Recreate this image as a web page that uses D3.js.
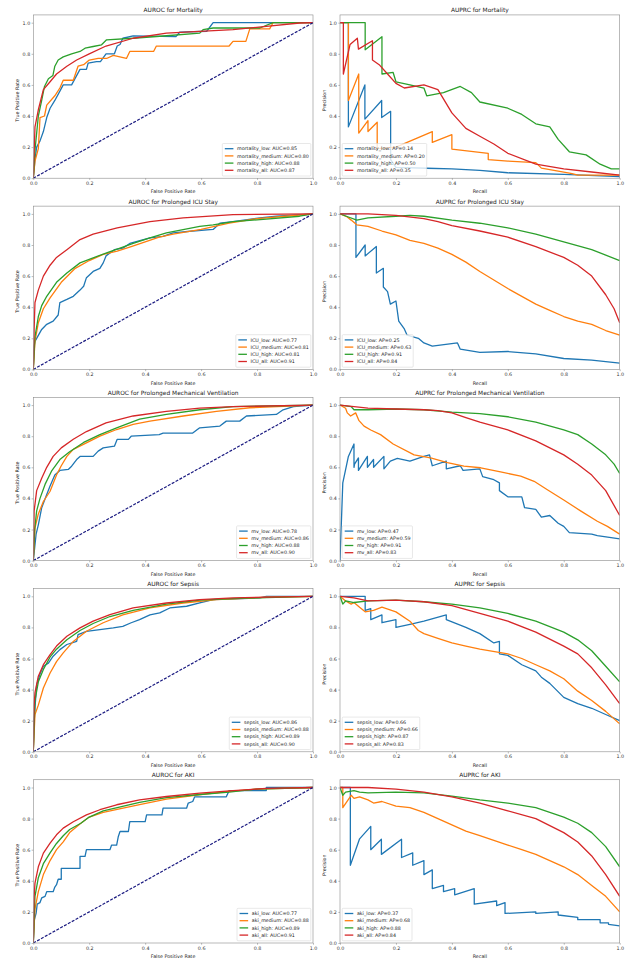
<!DOCTYPE html>
<html>
<head>
<meta charset="utf-8">
<script src="https://cdn.jsdelivr.net/npm/d3@7"></script>
<style>
  body { margin: 0; background: #fff; }
  svg { display: block; font-family: "DejaVu Sans", sans-serif; }
</style>
</head>
<body>
<div id="chart"></div>
<script>
var width = 628;
var height = 959;

// ---- labels ----
var tasks = ["Mortality", "Prolonged ICU Stay", "Prolonged Mechanical Ventilation", "Sepsis", "AKI"];
var prefixes = ["mortality", "ICU", "mv", "sepsis", "aki"];
var groups = ["low", "medium", "high", "all"];
var xTicks = [0, 0.2, 0.4, 0.6, 0.8, 1.0];
var yTicks = [0, 0.2, 0.4, 0.6, 0.8, 1.0];

var rocAuc = [
  [0.85, 0.80, 0.88, 0.87],
  [0.77, 0.81, 0.81, 0.91],
  [0.78, 0.86, 0.88, 0.90],
  [0.86, 0.88, 0.89, 0.90],
  [0.77, 0.88, 0.89, 0.91]
];
var prAp = [
  [0.14, 0.20, 0.50, 0.35],
  [0.25, 0.63, 0.91, 0.84],
  [0.47, 0.59, 0.91, 0.83],
  [0.66, 0.66, 0.87, 0.83],
  [0.37, 0.68, 0.88, 0.84]
];

// ---- ROC curves [fpr, tpr] ----
var rocMortalityLow = [[0,0],[0.006,0.12],[0.012,0.2],[0.024,0.24],[0.036,0.3],[0.048,0.39],[0.06,0.45],[0.077,0.5],[0.095,0.56],[0.107,0.6],[0.137,0.6],[0.149,0.64],[0.167,0.7],[0.19,0.7],[0.196,0.74],[0.226,0.75],[0.24,0.75],[0.26,0.8],[0.29,0.8],[0.3,0.85],[0.31,0.86],[0.32,0.9],[0.357,0.915],[0.51,0.91],[0.524,0.94],[0.62,0.945],[0.643,1.0],[1,1]];
var rocMortalityMedium = [[0,0],[0.006,0.11],[0.018,0.19],[0.024,0.39],[0.04,0.4],[0.048,0.47],[0.077,0.53],[0.095,0.58],[0.107,0.63],[0.143,0.63],[0.16,0.72],[0.18,0.73],[0.2,0.76],[0.232,0.77],[0.262,0.77],[0.286,0.79],[0.333,0.77],[0.345,0.815],[0.43,0.815],[0.44,0.85],[0.7,0.85],[0.714,0.88],[0.76,0.88],[0.774,0.96],[0.845,0.96],[0.857,1.0],[1,1]];
var rocMortalityHigh = [[0,0],[0.006,0.18],[0.018,0.4],[0.03,0.5],[0.04,0.59],[0.054,0.64],[0.07,0.66],[0.077,0.72],[0.089,0.76],[0.107,0.78],[0.137,0.8],[0.167,0.815],[0.185,0.836],[0.214,0.847],[0.244,0.858],[0.262,0.89],[0.357,0.9],[0.476,0.916],[0.595,0.933],[0.607,0.955],[0.643,0.966],[0.81,0.966],[0.857,1.0],[1,1]];
var rocMortalityAll = [[0,0],[0.006,0.33],[0.018,0.44],[0.036,0.57],[0.06,0.62],[0.083,0.67],[0.12,0.72],[0.155,0.76],[0.2,0.8],[0.26,0.85],[0.357,0.9],[0.476,0.933],[0.595,0.944],[0.714,0.955],[0.833,0.976],[0.952,0.998],[1,1]];

var rocIcuLow = [[0,0],[0.003,0.15],[0.006,0.18],[0.03,0.257],[0.048,0.29],[0.071,0.31],[0.089,0.35],[0.095,0.43],[0.12,0.45],[0.143,0.47],[0.167,0.51],[0.18,0.535],[0.19,0.59],[0.214,0.63],[0.238,0.65],[0.25,0.685],[0.26,0.73],[0.29,0.77],[0.32,0.78],[0.345,0.81],[0.417,0.846],[0.464,0.856],[0.5,0.878],[0.57,0.89],[0.643,0.9],[0.667,0.94],[0.714,0.95],[0.81,0.974],[0.87,0.985],[1,1]];
var rocIcuMedium = [[0,0],[0.006,0.18],[0.018,0.3],[0.036,0.39],[0.06,0.46],[0.1,0.56],[0.15,0.65],[0.2,0.7],[0.25,0.74],[0.3,0.76],[0.35,0.79],[0.4,0.82],[0.45,0.85],[0.5,0.87],[0.6,0.9],[0.7,0.94],[0.8,0.97],[0.9,0.985],[1,1]];
var rocIcuHigh = [[0,0],[0.006,0.21],[0.018,0.34],[0.03,0.41],[0.048,0.47],[0.083,0.56],[0.12,0.62],[0.167,0.685],[0.214,0.717],[0.262,0.75],[0.31,0.78],[0.357,0.81],[0.417,0.846],[0.476,0.878],[0.595,0.92],[0.643,0.93],[0.714,0.95],[0.833,0.966],[0.952,0.985],[1,1]];
var rocIcuAll = [[0,0],[0.003,0.26],[0.006,0.43],[0.018,0.51],[0.036,0.6],[0.06,0.67],[0.083,0.72],[0.12,0.77],[0.167,0.835],[0.214,0.87],[0.3,0.91],[0.417,0.95],[0.536,0.975],[0.714,0.995],[1,1]];

var rocMvLow = [[0,0],[0.01,0.17],[0.018,0.23],[0.03,0.34],[0.048,0.425],[0.06,0.48],[0.077,0.55],[0.095,0.58],[0.125,0.586],[0.137,0.607],[0.155,0.65],[0.167,0.67],[0.214,0.67],[0.232,0.704],[0.25,0.725],[0.29,0.736],[0.3,0.78],[0.34,0.78],[0.35,0.8],[0.45,0.81],[0.464,0.82],[0.57,0.82],[0.595,0.854],[0.667,0.865],[0.69,0.897],[0.738,0.897],[0.762,0.93],[0.869,0.94],[0.893,0.97],[0.93,0.99],[1,1]];
var rocMvMedium = [[0,0],[0.006,0.21],[0.018,0.3],[0.036,0.38],[0.06,0.446],[0.083,0.55],[0.1,0.61],[0.12,0.67],[0.143,0.715],[0.19,0.757],[0.238,0.8],[0.298,0.843],[0.357,0.876],[0.417,0.897],[0.536,0.93],[0.655,0.96],[0.774,0.983],[1,1]];
var rocMvHigh = [[0,0],[0.005,0.2],[0.012,0.32],[0.024,0.4],[0.042,0.49],[0.065,0.575],[0.095,0.65],[0.13,0.7],[0.18,0.76],[0.238,0.81],[0.298,0.854],[0.38,0.91],[0.476,0.94],[0.595,0.97],[0.714,0.99],[1,1]];
var rocMvAll = [[0,0],[0.003,0.32],[0.012,0.45],[0.03,0.53],[0.048,0.6],[0.071,0.67],[0.1,0.725],[0.143,0.78],[0.19,0.83],[0.26,0.886],[0.357,0.93],[0.476,0.96],[0.595,0.98],[0.714,0.99],[1,1]];

var rocSepsisLow = [[0,0],[0.003,0.2],[0.006,0.28],[0.012,0.43],[0.024,0.5],[0.036,0.55],[0.054,0.57],[0.071,0.615],[0.095,0.657],[0.12,0.69],[0.155,0.71],[0.16,0.754],[0.19,0.775],[0.238,0.786],[0.286,0.797],[0.32,0.807],[0.35,0.83],[0.38,0.85],[0.417,0.88],[0.452,0.893],[0.488,0.925],[0.548,0.936],[0.595,0.957],[0.643,0.978],[0.81,0.99],[0.833,1.0],[1,1]];
var rocSepsisMedium = [[0,0],[0.006,0.24],[0.018,0.3],[0.036,0.41],[0.06,0.507],[0.083,0.58],[0.107,0.636],[0.143,0.71],[0.19,0.775],[0.25,0.83],[0.32,0.88],[0.417,0.925],[0.536,0.957],[0.655,0.978],[0.833,0.994],[1,1]];
var rocSepsisHigh = [[0,0],[0.006,0.33],[0.018,0.45],[0.036,0.53],[0.06,0.61],[0.083,0.66],[0.12,0.72],[0.167,0.78],[0.214,0.825],[0.274,0.87],[0.357,0.91],[0.476,0.95],[0.595,0.975],[0.714,0.985],[0.8,0.99],[1,1]];
var rocSepsisAll = [[0,0],[0.003,0.3],[0.006,0.38],[0.018,0.486],[0.036,0.56],[0.06,0.625],[0.083,0.68],[0.12,0.743],[0.167,0.797],[0.214,0.84],[0.274,0.882],[0.357,0.925],[0.476,0.957],[0.595,0.979],[0.714,0.99],[1,1]];

var rocAkiLow = [[0,0],[0.004,0.15],[0.01,0.19],[0.014,0.25],[0.024,0.26],[0.03,0.29],[0.042,0.3],[0.048,0.33],[0.071,0.33],[0.077,0.36],[0.083,0.375],[0.089,0.41],[0.1,0.41],[0.1,0.48],[0.167,0.48],[0.167,0.557],[0.185,0.557],[0.19,0.6],[0.274,0.6],[0.28,0.63],[0.298,0.63],[0.304,0.685],[0.31,0.717],[0.34,0.717],[0.345,0.78],[0.4,0.78],[0.405,0.824],[0.46,0.824],[0.464,0.867],[0.548,0.867],[0.554,0.9],[0.57,0.91],[0.577,0.94],[0.69,0.94],[0.7,0.98],[0.833,0.98],[0.833,1.0],[1,1]];
var rocAkiMedium = [[0,0],[0.006,0.22],[0.018,0.33],[0.036,0.44],[0.06,0.53],[0.083,0.6],[0.107,0.65],[0.13,0.71],[0.17,0.77],[0.2,0.81],[0.25,0.84],[0.3,0.86],[0.38,0.89],[0.476,0.925],[0.6,0.955],[0.7,0.975],[0.8,0.99],[1,1]];
var rocAkiHigh = [[0,0],[0.006,0.3],[0.018,0.42],[0.036,0.51],[0.06,0.58],[0.083,0.64],[0.107,0.69],[0.13,0.73],[0.17,0.77],[0.2,0.81],[0.25,0.85],[0.3,0.87],[0.38,0.905],[0.476,0.935],[0.595,0.955],[0.7,0.97],[0.8,0.99],[1,1]];
var rocAkiAll = [[0,0],[0.003,0.3],[0.006,0.385],[0.018,0.49],[0.036,0.578],[0.06,0.642],[0.083,0.696],[0.107,0.739],[0.143,0.78],[0.19,0.824],[0.238,0.857],[0.298,0.889],[0.38,0.92],[0.476,0.942],[0.595,0.964],[0.714,0.98],[0.833,0.994],[1,1]];

// ---- PR curves [recall, precision] ----
var prMortalityLow = [[0,1],[0.03,1],[0.03,0.33],[0.089,0.6],[0.089,0.38],[0.149,0.5],[0.149,0.39],[0.181,0.43],[0.181,0.12],[0.2,0.07],[0.31,0.064],[0.4,0.06],[0.5,0.05],[0.6,0.035],[0.8,0.025],[1,0.01]];
var prMortalityMedium = [[0,1],[0.03,1],[0.03,0.5],[0.067,0.67],[0.067,0.29],[0.1,0.37],[0.1,0.3],[0.133,0.36],[0.133,0.19],[0.2,0.2],[0.33,0.3],[0.33,0.23],[0.4,0.28],[0.4,0.187],[0.53,0.16],[0.53,0.12],[0.6,0.11],[0.7,0.1],[0.72,0.065],[0.83,0.03],[0.85,0.02],[1,0.02]];
var prMortalityHigh = [[0,1],[0.09,1],[0.09,0.826],[0.15,0.91],[0.15,0.67],[0.19,0.68],[0.2,0.62],[0.25,0.6],[0.3,0.58],[0.31,0.53],[0.37,0.55],[0.43,0.59],[0.47,0.55],[0.5,0.49],[0.6,0.45],[0.65,0.41],[0.7,0.35],[0.75,0.33],[0.78,0.25],[0.82,0.17],[0.88,0.15],[0.93,0.09],[0.97,0.06],[1,0.06]];
var prMortalityAll = [[0,1],[0.012,1],[0.012,0.67],[0.036,0.86],[0.062,0.9],[0.066,0.83],[0.116,0.884],[0.116,0.76],[0.14,0.73],[0.17,0.67],[0.2,0.61],[0.23,0.58],[0.3,0.6],[0.35,0.57],[0.4,0.42],[0.45,0.32],[0.5,0.27],[0.55,0.22],[0.6,0.16],[0.7,0.09],[0.8,0.06],[0.9,0.04],[1,0.02]];

var prIcuLow = [[0,1],[0.057,1],[0.057,0.72],[0.09,0.8],[0.09,0.73],[0.13,0.79],[0.13,0.62],[0.155,0.65],[0.155,0.53],[0.17,0.5],[0.18,0.42],[0.2,0.44],[0.21,0.31],[0.23,0.26],[0.24,0.22],[0.28,0.2],[0.3,0.17],[0.33,0.15],[0.42,0.17],[0.43,0.13],[0.5,0.11],[0.6,0.115],[0.7,0.1],[0.8,0.07],[0.9,0.06],[1,0.04]];
var prIcuMedium = [[0,1],[0.026,0.98],[0.04,0.96],[0.06,0.93],[0.1,0.92],[0.15,0.89],[0.2,0.865],[0.25,0.83],[0.3,0.81],[0.35,0.78],[0.4,0.74],[0.45,0.69],[0.5,0.63],[0.55,0.575],[0.6,0.52],[0.65,0.47],[0.7,0.42],[0.75,0.38],[0.8,0.34],[0.85,0.31],[0.9,0.29],[0.95,0.25],[1,0.22]];
var prIcuHigh = [[0,1],[0.03,0.98],[0.06,0.96],[0.1,0.975],[0.2,0.985],[0.25,0.99],[0.3,0.985],[0.4,0.96],[0.5,0.94],[0.6,0.91],[0.7,0.87],[0.8,0.82],[0.9,0.77],[1,0.7]];
var prIcuAll = [[0,1],[0.1,1],[0.2,0.99],[0.3,0.97],[0.35,0.95],[0.4,0.925],[0.5,0.89],[0.6,0.85],[0.7,0.79],[0.8,0.72],[0.85,0.67],[0.9,0.6],[0.95,0.48],[0.98,0.39],[1,0.3]];

var prMvLow = [[0,0],[0.01,0.5],[0.03,0.67],[0.05,0.75],[0.05,0.6],[0.052,0.62],[0.066,0.66],[0.066,0.58],[0.098,0.67],[0.098,0.6],[0.12,0.65],[0.12,0.6],[0.157,0.67],[0.157,0.59],[0.18,0.64],[0.205,0.657],[0.25,0.64],[0.3,0.67],[0.32,0.68],[0.33,0.61],[0.38,0.64],[0.38,0.59],[0.43,0.61],[0.44,0.58],[0.5,0.59],[0.51,0.54],[0.55,0.52],[0.57,0.5],[0.57,0.45],[0.6,0.41],[0.65,0.41],[0.66,0.34],[0.7,0.33],[0.72,0.28],[0.75,0.29],[0.78,0.24],[0.8,0.22],[0.82,0.18],[0.9,0.17],[0.92,0.16],[1,0.14]];
var prMvMedium = [[0,1],[0.02,0.98],[0.026,0.95],[0.038,0.93],[0.056,0.95],[0.068,0.9],[0.086,0.865],[0.11,0.84],[0.145,0.81],[0.19,0.75],[0.265,0.68],[0.324,0.66],[0.384,0.63],[0.443,0.607],[0.503,0.597],[0.574,0.57],[0.646,0.543],[0.694,0.51],[0.74,0.457],[0.8,0.39],[0.86,0.32],[0.92,0.253],[0.956,0.22],[1,0.17]];
var prMvHigh = [[0,1],[0.04,0.99],[0.05,0.97],[0.1,0.97],[0.2,0.975],[0.3,0.97],[0.4,0.955],[0.5,0.945],[0.6,0.925],[0.7,0.89],[0.8,0.84],[0.85,0.81],[0.9,0.75],[0.95,0.68],[0.98,0.62],[1,0.56]];
var prMvAll = [[0,1],[0.1,0.98],[0.2,0.975],[0.3,0.97],[0.35,0.965],[0.4,0.95],[0.45,0.92],[0.5,0.89],[0.6,0.84],[0.7,0.77],[0.8,0.68],[0.85,0.62],[0.9,0.55],[0.95,0.45],[1,0.29]];

var prSepsisLow = [[0,1],[0.09,1],[0.09,0.91],[0.11,0.92],[0.11,0.85],[0.15,0.88],[0.15,0.83],[0.2,0.85],[0.2,0.8],[0.25,0.82],[0.3,0.84],[0.38,0.88],[0.38,0.85],[0.45,0.8],[0.5,0.76],[0.55,0.7],[0.57,0.71],[0.57,0.63],[0.6,0.62],[0.65,0.56],[0.7,0.52],[0.72,0.48],[0.75,0.44],[0.8,0.35],[0.85,0.31],[0.9,0.28],[0.95,0.24],[1,0.2]];
var prSepsisMedium = [[0,1],[0.02,0.97],[0.04,0.95],[0.05,0.96],[0.07,0.93],[0.09,0.9],[0.12,0.91],[0.15,0.93],[0.2,0.9],[0.25,0.84],[0.28,0.78],[0.3,0.76],[0.35,0.73],[0.4,0.7],[0.45,0.68],[0.5,0.66],[0.6,0.63],[0.65,0.6],[0.7,0.56],[0.75,0.52],[0.8,0.47],[0.85,0.39],[0.9,0.33],[0.95,0.26],[1,0.18]];
var prSepsisHigh = [[0,1],[0.01,0.95],[0.02,0.97],[0.05,0.96],[0.1,0.97],[0.2,0.975],[0.3,0.965],[0.4,0.95],[0.5,0.925],[0.6,0.89],[0.7,0.84],[0.8,0.77],[0.85,0.72],[0.9,0.65],[0.95,0.55],[1,0.45]];
var prSepsisAll = [[0,1],[0.05,0.99],[0.1,0.97],[0.2,0.975],[0.3,0.965],[0.4,0.94],[0.5,0.89],[0.6,0.84],[0.7,0.77],[0.8,0.68],[0.85,0.63],[0.9,0.54],[0.95,0.43],[1,0.31]];

var prAkiLow = [[0,1],[0.037,1],[0.037,0.5],[0.07,0.67],[0.11,0.75],[0.11,0.6],[0.148,0.667],[0.148,0.57],[0.22,0.667],[0.22,0.55],[0.26,0.58],[0.26,0.5],[0.3,0.53],[0.3,0.44],[0.33,0.47],[0.33,0.35],[0.37,0.37],[0.37,0.33],[0.41,0.35],[0.41,0.31],[0.48,0.35],[0.48,0.25],[0.56,0.27],[0.56,0.24],[0.59,0.26],[0.59,0.19],[0.7,0.2],[0.7,0.19],[0.78,0.2],[0.78,0.18],[0.85,0.165],[0.85,0.15],[0.93,0.15],[0.93,0.13],[0.96,0.13],[0.96,0.12],[1,0.11]];
var prAkiMedium = [[0,1],[0.01,1],[0.01,0.87],[0.04,0.95],[0.05,0.93],[0.07,0.94],[0.1,0.92],[0.12,0.9],[0.15,0.91],[0.2,0.88],[0.25,0.87],[0.3,0.84],[0.35,0.8],[0.4,0.76],[0.45,0.72],[0.5,0.69],[0.55,0.66],[0.6,0.63],[0.65,0.6],[0.7,0.57],[0.75,0.53],[0.8,0.49],[0.85,0.44],[0.9,0.37],[0.95,0.3],[1,0.2]];
var prAkiHigh = [[0,1],[0.01,0.95],[0.02,0.97],[0.05,0.98],[0.07,0.97],[0.1,0.965],[0.2,0.97],[0.3,0.965],[0.4,0.945],[0.5,0.92],[0.6,0.9],[0.7,0.87],[0.8,0.81],[0.85,0.77],[0.9,0.71],[0.95,0.62],[1,0.49]];
var prAkiAll = [[0,1],[0.1,1],[0.2,0.99],[0.3,0.97],[0.4,0.94],[0.5,0.9],[0.6,0.85],[0.7,0.8],[0.8,0.71],[0.85,0.65],[0.9,0.56],[0.95,0.44],[1,0.3]];

var rocCurves = [
  [rocMortalityLow, rocMortalityMedium, rocMortalityHigh, rocMortalityAll],
  [rocIcuLow, rocIcuMedium, rocIcuHigh, rocIcuAll],
  [rocMvLow, rocMvMedium, rocMvHigh, rocMvAll],
  [rocSepsisLow, rocSepsisMedium, rocSepsisHigh, rocSepsisAll],
  [rocAkiLow, rocAkiMedium, rocAkiHigh, rocAkiAll]
];
var prCurves = [
  [prMortalityLow, prMortalityMedium, prMortalityHigh, prMortalityAll],
  [prIcuLow, prIcuMedium, prIcuHigh, prIcuAll],
  [prMvLow, prMvMedium, prMvHigh, prMvAll],
  [prSepsisLow, prSepsisMedium, prSepsisHigh, prSepsisAll],
  [prAkiLow, prAkiMedium, prAkiHigh, prAkiAll]
];

var colors = ["#1f77b4", "#ff7f0e", "#2ca02c", "#d62728"];

// layout
var colLeft = [33.3, 340];
var plotW = 279.7;
var firstBottom = 178.2;   // y of value 0 in first row
var rowStep = 191.2;
var unit = 155.5;          // pixels per 1.0 on y
var fs = 4.8;

var svg = d3.select("#chart").append("svg")
    .attr("width", width)
    .attr("height", height);

svg.append("rect")
    .attr("width", width)
    .attr("height", height)
    .attr("fill", "#ffffff");

var defs = svg.append("defs");

var drawPanel = function(row, col) {
    var isRoc = col == 0;
    var x0 = colLeft[col];
    var yb = firstBottom + rowStep * row;
    var ytop = yb - unit * 1.05;

    var x = d3.scaleLinear().domain([0, 1]).range([x0, x0 + plotW]);
    var y = d3.scaleLinear().domain([0, 1.05]).range([yb, ytop]);

    var g = svg.append("g").attr("class", "panel");
    var clipId = "clip" + row + "_" + col;

    defs.append("clipPath").attr("id", clipId)
        .append("rect")
        .attr("x", x0)
        .attr("y", ytop)
        .attr("width", plotW)
        .attr("height", yb - ytop);

    var line = d3.line()
        .x(function(d) { return x(d[0]); })
        .y(function(d) { return y(d[1]); });

    var curves = isRoc ? rocCurves[row] : prCurves[row];
    var values = isRoc ? rocAuc[row] : prAp[row];

    var lines = g.append("g").attr("clip-path", "url(#" + clipId + ")");

    curves.forEach(function(c, i) {
        lines.append("path")
            .datum(c)
            .attr("d", line)
            .attr("fill", "none")
            .attr("stroke", colors[i])
            .attr("stroke-width", 1.3)
            .attr("stroke-linejoin", "round");
    });

    if (isRoc) {
        lines.append("path")
            .datum([[0, 0], [1, 1]])
            .attr("d", line)
            .attr("fill", "none")
            .attr("stroke", "#1a1a80")
            .attr("stroke-width", 1.2)
            .attr("stroke-dasharray", "3,1.4");
    }

    // frame
    g.append("rect")
        .attr("x", x0)
        .attr("y", ytop)
        .attr("width", plotW)
        .attr("height", yb - ytop)
        .attr("fill", "none")
        .attr("stroke", "#8a8a8a")
        .attr("stroke-width", 0.6);

    var xAxis = g.append("g")
        .attr("transform", "translate(0," + yb + ")")
        .call(d3.axisBottom(x).tickValues(xTicks).tickFormat(d3.format(".1f")).tickSize(1.7).tickPadding(1.4));
    var yAxis = g.append("g")
        .attr("transform", "translate(" + x0 + ",0)")
        .call(d3.axisLeft(y).tickValues(yTicks).tickFormat(d3.format(".1f")).tickSize(1.7).tickPadding(1.4));

    [xAxis, yAxis].forEach(function(a) {
        a.select(".domain").remove();
        a.selectAll("line").attr("stroke", "#777").attr("stroke-width", 0.5);
        a.selectAll("text")
            .style("font-size", fs + "px")
            .style("font-family", "DejaVu Sans")
            .attr("fill", "#333");
    });

    g.append("text")
        .attr("x", x0 + plotW / 2)
        .attr("y", ytop - 2.6)
        .text((isRoc ? "AUROC for " : "AUPRC for ") + tasks[row])
        .style("text-anchor", "middle")
        .style("font-size", "5.9px")
        .attr("fill", "#222");

    g.append("text")
        .attr("x", x0 + plotW / 2)
        .attr("y", yb + 15.2)
        .text(isRoc ? "False Positive Rate" : "Recall")
        .style("text-anchor", "middle")
        .style("font-size", fs + "px")
        .attr("fill", "#222");

    g.append("text")
        .attr("transform", "translate(" + (x0 - 14.4) + "," + (y(0.5)) + ") rotate(-90)")
        .text(isRoc ? "True Positive Rate" : "Precision")
        .style("text-anchor", "middle")
        .style("font-size", fs + "px")
        .attr("fill", "#222");

    // legend
    var labels = groups.map(function(gr, i) {
        return prefixes[row] + "_" + gr + ": " + (isRoc ? "AUC=" : "AP=") + values[i].toFixed(2);
    });

    var lg = g.append("g");
    var box = lg.append("rect");
    var texts = [];
    labels.forEach(function(l, i) {
        texts.push(lg.append("text")
            .attr("y", i * 7.2)
            .attr("dy", "0.35em")
            .text(l)
            .style("font-size", fs + "px")
            .attr("fill", "#222"));
    });
    var tw = d3.max(texts, function(t) { return t.node().getComputedTextLength(); });
    var pad = 1.9, handle = 9.2, gap = 3.6;
    var bw = pad + handle + gap + tw + pad;
    var bh = 32.5;
    var bx = isRoc ? x0 + plotW - 2.2 - bw : x0 + 2.2;
    var by = yb - 2.2 - bh;
    box.attr("x", bx)
        .attr("y", by)
        .attr("width", bw)
        .attr("height", bh)
        .attr("rx", 1)
        .attr("fill", "#ffffff")
        .attr("fill-opacity", 0.8)
        .attr("stroke", "#d0d0d0")
        .attr("stroke-width", 0.5);
    var firstY = by + 5.2;
    texts.forEach(function(t, i) {
        t.attr("x", bx + pad + handle + gap).attr("y", firstY + i * 7.2);
        lg.append("line")
            .attr("x1", bx + pad + 0.6)
            .attr("x2", bx + pad + handle)
            .attr("y1", firstY + i * 7.2)
            .attr("y2", firstY + i * 7.2)
            .attr("stroke", colors[i])
            .attr("stroke-width", 1.3);
    });
};

for (var r = 0; r < tasks.length; r++) {
    drawPanel(r, 0);
    drawPanel(r, 1);
}
</script>
</body>
</html>
